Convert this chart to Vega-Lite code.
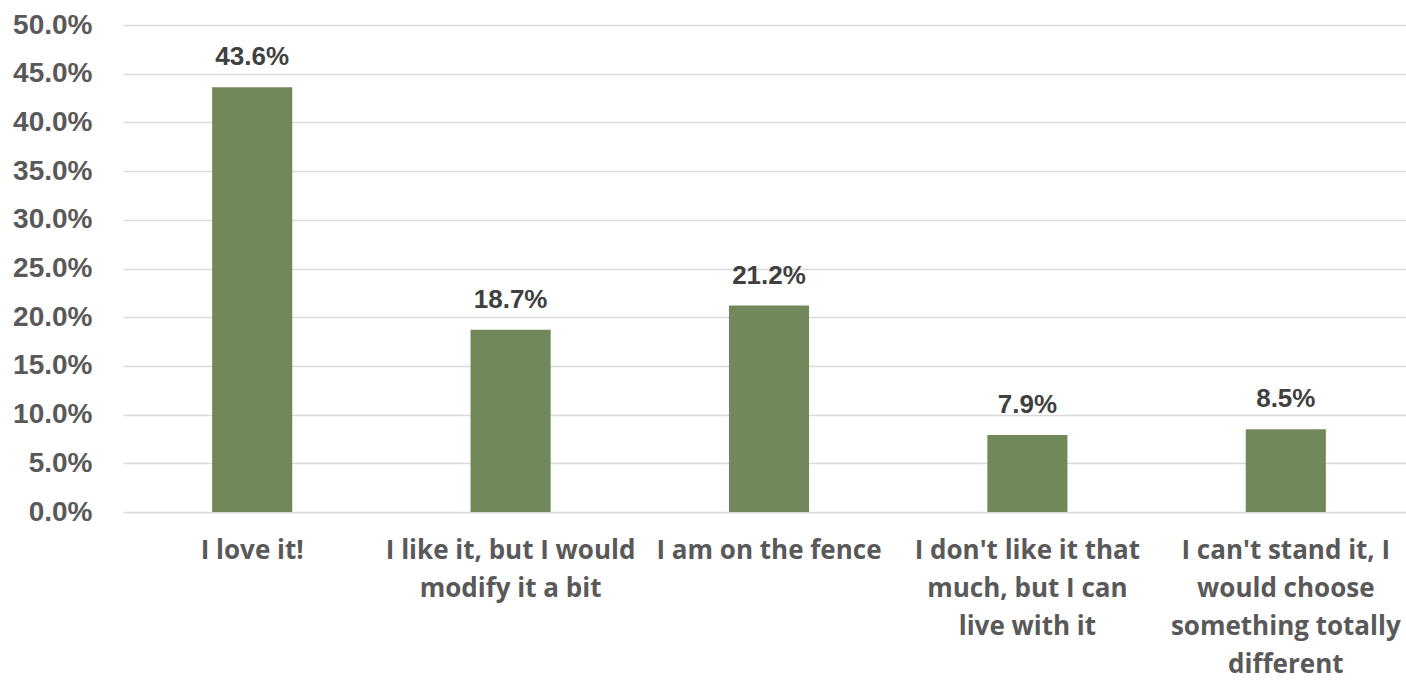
{
  "$schema": "https://vega.github.io/schema/vega-lite/v6.json",
  "width": 1292,
  "height": 487,
  "autosize": {"type": "none"},
  "padding": {"left": 123, "top": 25, "right": 0, "bottom": 170},
  "background": "white",
  "config": {"view": {"stroke": null}, "font": "Liberation Sans"},
  "data": {"values": [
    {"answer": "I love it!", "share": 0.436},
    {"answer": "I like it, but I would|modify it a bit", "share": 0.187},
    {"answer": "I am on the fence", "share": 0.212},
    {"answer": "I don't like it that|much, but I can|live with it", "share": 0.079},
    {"answer": "I can't stand it, I|would choose|something totally|different", "share": 0.085}
  ]},
  "encoding": {
    "x": {"field": "answer", "type": "nominal", "sort": null,
      "scale": {"paddingInner": 0.69, "paddingOuter": 0.345},
      "axis": {"title": null, "labelAngle": 0, "domain": false, "ticks": false,
        "labelExpr": "split(datum.label, '|')", "labelFont": "Open Sans", "labelFontSize": 26, "labelFontWeight": "bold",
        "labelColor": "#595959", "labelLineHeight": 38, "labelPadding": 25, "labelLimit": 400, "labelOverlap": false}},
    "y": {"field": "share", "type": "quantitative",
      "scale": {"domain": [0, 0.5]},
      "axis": {"title": null, "format": ".1%", "values": [0,0.05,0.1,0.15,0.2,0.25,0.3,0.35,0.4,0.45,0.5],
        "domain": false, "ticks": false, "labelFontSize": 28, "labelFontWeight": "bold", "labelOverlap": false,
        "labelColor": "#595959", "labelPadding": 31, "gridColor": "#d9d9d9", "gridWidth": 1.5}}
  },
  "layer": [
    {"mark": {"type": "bar", "color": "#70885a"}},
    {"mark": {"type": "text", "dy": -17, "fontSize": 26, "fontWeight": "bold", "color": "#404040", "baseline": "bottom"},
     "encoding": {"text": {"field": "share", "type": "quantitative", "format": ".1%"}}}
  ]
}
